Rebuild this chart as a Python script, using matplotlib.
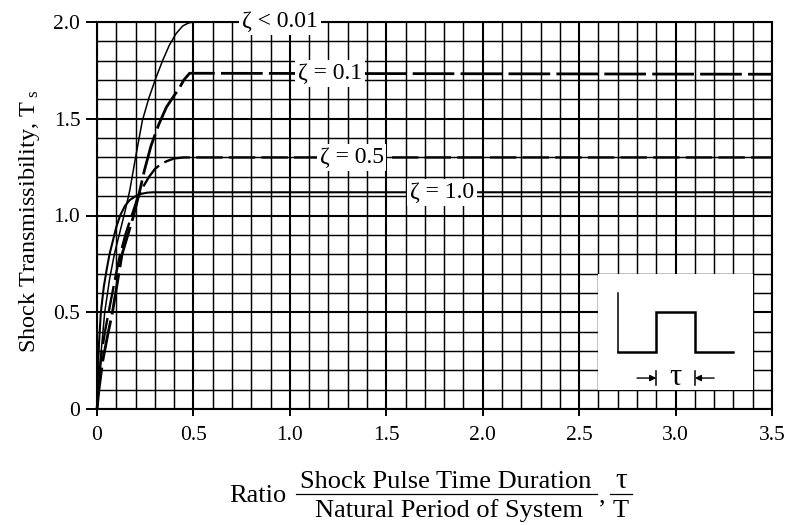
import matplotlib
matplotlib.use("Agg")
import matplotlib.pyplot as plt
from matplotlib.ticker import MultipleLocator, FixedLocator
from matplotlib.lines import Line2D
from matplotlib.patches import Rectangle

plt.rcParams['font.family'] = ['Liberation Serif', 'DejaVu Serif']
plt.rcParams['mathtext.fontset'] = 'custom'
plt.rcParams['mathtext.rm'] = 'Liberation Serif'
plt.rcParams['mathtext.it'] = 'Liberation Serif:italic'
plt.rcParams['lines.scale_dashes'] = False

# ---- data ----
x_undamped = [0, 0.02, 0.04, 0.065, 0.09, 0.12, 0.145, 0.17, 0.2, 0.235, 0.27, 0.305,
              0.34, 0.375, 0.41, 0.445, 0.475, 0.5, 3.5]
t_undamped = [0, 0.28, 0.50, 0.67, 0.80, 0.92, 1.02, 1.13, 1.30, 1.49, 1.61, 1.71,
              1.80, 1.88, 1.94, 1.98, 1.995, 2.0, 2.0]

x_z01 = [0, 0.01, 0.03, 0.055, 0.08, 0.105, 0.13, 0.16, 0.19, 0.22, 0.245, 0.28, 0.32,
         0.36, 0.4, 0.425, 0.45, 0.48, 0.52, 3.5]
t_z01 = [0, 0.10, 0.25, 0.38, 0.50, 0.65, 0.80, 0.90, 1.00, 1.12, 1.23, 1.36, 1.47,
         1.56, 1.62, 1.655, 1.70, 1.735, 1.735, 1.73]

x_z05 = [0, 0.01, 0.025, 0.045, 0.07, 0.095, 0.12, 0.15, 0.18, 0.21, 0.24, 0.27, 0.30,
         0.33, 0.36, 0.40, 0.45, 3.5]
t_z05 = [0, 0.15, 0.30, 0.42, 0.55, 0.68, 0.80, 0.91, 1.00, 1.09, 1.15, 1.20, 1.24,
         1.265, 1.28, 1.295, 1.30, 1.30]

x_z10 = [0, 0.005, 0.01, 0.02, 0.035, 0.05, 0.065, 0.08, 0.1, 0.12, 0.145, 0.17, 0.2,
         0.23, 0.26, 0.29, 3.5]
t_z10 = [0, 0.20, 0.33, 0.50, 0.63, 0.72, 0.80, 0.86, 0.94, 1.00, 1.05, 1.08, 1.10,
         1.112, 1.118, 1.12, 1.12]

curve_labels = [r"ζ < 0.01", r"ζ = 0.1", r"ζ = 0.5", r"ζ = 1.0"]
label_x = [0.95, 1.21, 1.32, 1.79]
label_y = [2.0, 1.735, 1.30, 1.12]

x_ticks = [0, 0.5, 1.0, 1.5, 2.0, 2.5, 3.0, 3.5]
x_ticklabels = ["0", "0.5", "1.0", "1.5", "2.0", "2.5", "3.0", "3.5"]
y_ticks = [0, 0.5, 1.0, 1.5, 2.0]
y_ticklabels = ["0", "0.5", "1.0", "1.5", "2.0"]

# ---- figure ----
W, H = 785, 525
fig = plt.figure(figsize=(W / 100, H / 100), dpi=100)
ax = fig.add_axes([97 / W, 1 - 409 / H, (772 - 97) / W, (409 - 22) / H])
ax.set_xlim(0, 3.5)
ax.set_ylim(0, 2.0)

ax.xaxis.set_major_locator(FixedLocator(x_ticks))
ax.yaxis.set_major_locator(FixedLocator(y_ticks))
ax.xaxis.set_minor_locator(MultipleLocator(0.1))
ax.yaxis.set_minor_locator(MultipleLocator(0.1))
ax.set_xticklabels(x_ticklabels)
ax.set_yticklabels(y_ticklabels)
ax.set_axisbelow(True)
ax.grid(which='minor', color='black', linewidth=1.05)
ax.grid(which='major', color='black', linewidth=1.5)
ax.tick_params(which='minor', length=0)
ax.tick_params(axis='x', which='major', direction='out', length=5, width=1.4,
               labelsize=15.5, pad=7.5)
ax.tick_params(axis='y', which='major', direction='out', length=8, width=1.4,
               labelsize=15.5, pad=4)
for s in ax.spines.values():
    s.set_linewidth(1.5)

# inset white area with pulse sketch
ax.add_patch(Rectangle((2.6, 0.1), 0.8, 0.6, facecolor='white', edgecolor='none', zorder=1))
ax.plot([2.7, 2.9, 2.9, 3.1, 3.1, 3.3], [0.295, 0.295, 0.5, 0.5, 0.295, 0.295],
        color='black', lw=1.8, zorder=3, solid_joinstyle='miter')
ax.plot([2.7, 2.7], [0.6, 0.295], color='black', lw=1.1, zorder=3)
ax.text(3.0, 0.165, "τ", fontsize=22, ha='center', va='center', zorder=3)
ax.annotate("", xy=(2.9, 0.16), xytext=(2.8, 0.16),
            arrowprops=dict(arrowstyle='-|>', color='black', lw=1.0,
                            mutation_scale=9, shrinkA=0, shrinkB=0), zorder=3)
ax.annotate("", xy=(3.1, 0.16), xytext=(3.2, 0.16),
            arrowprops=dict(arrowstyle='-|>', color='black', lw=1.0,
                            mutation_scale=9, shrinkA=0, shrinkB=0), zorder=3)
ax.plot([2.9, 2.9], [0.125, 0.195], color='black', lw=1.1, zorder=3)
ax.plot([3.1, 3.1], [0.125, 0.195], color='black', lw=1.1, zorder=3)

# curves
ax.plot(x_z10, t_z10, color='black', lw=1.5, zorder=2, clip_on=False)
ax.plot(x_z05, t_z05, color='black', lw=1.7, dashes=(19, 4.5), zorder=2, clip_on=False)
ax.plot(x_z01, t_z01, color='black', lw=2.0, dashes=(30, 4.5), zorder=2, clip_on=False)
ax.plot(x_undamped, t_undamped, color='black', lw=1.1, zorder=2, clip_on=False)

for txt, lx, ly in zip(curve_labels, label_x, label_y):
    ax.text(lx, ly, txt, fontsize=17, ha='center', va='center', zorder=4,
            bbox=dict(boxstyle='square,pad=0.12', facecolor='white', edgecolor='none'))

# y label
fig.text(30 / W, 1 - 221 / H, r"Shock Transmissibility, T$_{\rm\ s}$", rotation=90,
         ha='center', va='center', fontsize=17.5)

# x label as a fraction
fs = 19
fig.text(286 / W, 1 - 502 / H, "Ratio", ha='right', va='baseline', fontsize=fs)
fig.text(446 / W, 1 - 488 / H, "Shock Pulse Time Duration", ha='center', va='baseline', fontsize=fs)
fig.text(449 / W, 1 - 517 / H, "Natural Period of System", ha='center', va='baseline', fontsize=fs)
fig.add_artist(Line2D([296 / W, 597 / W], [1 - 494 / H, 1 - 494 / H], color='black', lw=0.9,
                      transform=fig.transFigure))
fig.text(602 / W, 1 - 502 / H, ",", ha='center', va='baseline', fontsize=fs)
fig.text(621 / W, 1 - 488 / H, "τ", ha='center', va='baseline', fontsize=fs + 2)
fig.text(621 / W, 1 - 517 / H, "T", ha='center', va='baseline', fontsize=fs)
fig.add_artist(Line2D([610 / W, 632 / W], [1 - 494 / H, 1 - 494 / H], color='black', lw=0.9,
                      transform=fig.transFigure))

fig.savefig("out.png", dpi=100)
